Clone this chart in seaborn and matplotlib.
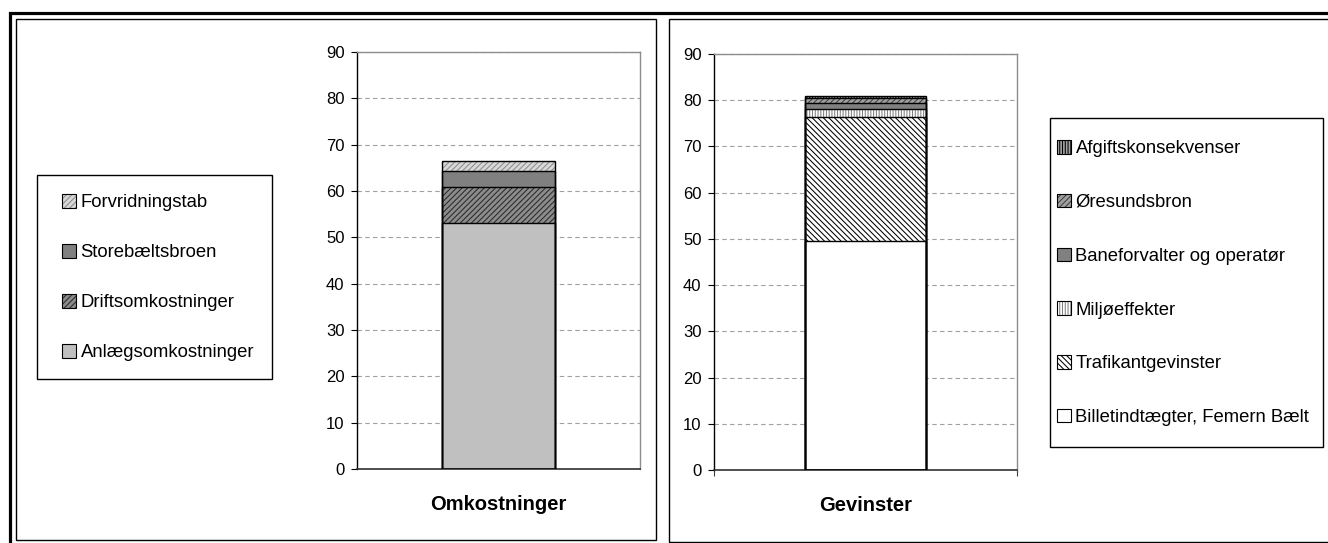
import matplotlib
matplotlib.use("Agg")
import matplotlib.pyplot as plt
import seaborn as sns
import pandas as pd
import numpy as np
from matplotlib.patches import Patch, Rectangle
from matplotlib.legend_handler import HandlerTuple

# ---------------- data ----------------
cost_category = "Omkostninger"
cost_series = ["Anlægsomkostninger", "Driftsomkostninger", "Storebæltsbroen", "Forvridningstab"]
cost_values = [53.0, 7.9, 3.4, 2.2]

gain_category = "Gevinster"
gain_series = ["Billetindtægter, Femern Bælt", "Trafikantgevinster", "Miljøeffekter",
               "Baneforvalter og operatør", "Øresundsbron", "Afgiftskonsekvenser"]
gain_values = [49.6, 26.7, 1.7, 1.4, 1.0, 0.5]

y_ticks = [0, 10, 20, 30, 40, 50, 60, 70, 80, 90]

# ---------------- styles ----------------
cost_styles = [
    dict(fc="#c0c0c0", hc="#c0c0c0", hatch=None),
    dict(fc="#8c8c8c", hc="#2a2a2a", hatch="//////"),
    dict(fc="#808080", hc="#808080", hatch=None),
    dict(fc="#d8d8d8", hc="#8c8c8c", hatch="//////"),
]
gain_styles = [
    dict(fc="#ffffff", hc="#ffffff", hatch=None),
    dict(fc="#ffffff", hc="#000000", hatch="\\\\\\\\\\\\"),
    dict(fc="#ffffff", hc="#808080", hatch="||||||"),
    dict(fc="#808080", hc="#808080", hatch=None),
    dict(fc="#a0a0a0", hc="#404040", hatch="//////"),
    dict(fc="#a0a0a0", hc="#000000", hatch="||||||"),
]

W, H = 1328, 543
sns.set_theme(style="white")
plt.rcParams["font.family"] = ["Liberation Sans", "DejaVu Sans"]
plt.rcParams["hatch.linewidth"] = 0.75

fig = plt.figure(figsize=(W / 100, H / 100), dpi=100)
fig.patch.set_facecolor("white")


def fx(x):
    return x / W


def fy(y):
    return 1 - y / H


def add_box(x0, y0, x1, y1, lw, color="black"):
    fig.add_artist(Rectangle((fx(x0), fy(y1)), fx(x1) - fx(x0), fy(y0) - fy(y1),
                             transform=fig.transFigure, fill=False, lw=lw,
                             edgecolor=color, zorder=0))


# frames around the charts
add_box(9.5, 12.5, 1345, 560, 2.3)
add_box(16, 19, 656, 540, 1.0)
add_box(669, 19, 1345, 542, 1.0)

ax1 = fig.add_axes([fx(357), fy(469), fx(640) - fx(357), fy(52) - fy(469)])
ax2 = fig.add_axes([fx(714), fy(470), fx(1017) - fx(714), fy(54) - fy(470)])


def draw_stack(ax, category, series, values, styles):
    tops = np.cumsum(values)
    df = pd.DataFrame({"category": [category] * len(series), "series": series, "top": tops})
    # filled segments, top-most cumulative first so lower ones cover them
    for i in reversed(range(len(series))):
        st = styles[i]
        sns.barplot(data=df.iloc[[i]], x="category", y="top", width=0.4,
                    color=st["fc"], edgecolor=st["hc"], hatch=st["hatch"],
                    linewidth=0, saturation=1, errorbar=None, ax=ax, zorder=2)
    # black outlines of each segment boundary
    for i in reversed(range(len(series))):
        sns.barplot(data=df.iloc[[i]], x="category", y="top", width=0.4,
                    fill=False, color="black", linewidth=1.0, errorbar=None,
                    ax=ax, zorder=3)


def style_axes(ax, category, minor_edges):
    ax.set_ylim(0, 90)
    ax.set_xlim(-0.5, 0.5)
    ax.set_yticks(y_ticks)
    ax.set_yticklabels([str(t) for t in y_ticks], fontsize=12, color="black")
    ax.set_xticks([0])
    ax.set_xticklabels([category], fontsize=14.5, fontweight="bold", color="black")
    ax.set_xlabel("")
    ax.set_ylabel("")
    ax.tick_params(axis="y", length=4, width=0.8, color="black", pad=5, left=True)
    ax.tick_params(axis="x", length=0, pad=19)
    if minor_edges:
        ax.set_xticks([-0.5, 0.5], minor=True)
        ax.tick_params(axis="x", which="minor", length=4, width=0.8, color="#404040", bottom=True)
    ax.set_axisbelow(True)
    ax.yaxis.grid(True, color="#a0a0a0", linestyle=(0, (4, 3)), linewidth=0.8)
    ax.xaxis.grid(False)
    for s in ["top", "right"]:
        ax.spines[s].set_color("#8c8c8c")
        ax.spines[s].set_linewidth(1.0)
        ax.spines[s].set_visible(True)
    ax.spines["left"].set_color("black")
    ax.spines["left"].set_linewidth(1.0)
    ax.spines["bottom"].set_color("#303030")
    ax.spines["bottom"].set_linewidth(1.2)
    ax.set_facecolor("white")


draw_stack(ax1, cost_category, cost_series, cost_values, cost_styles)
draw_stack(ax2, gain_category, gain_series, gain_values, gain_styles)
style_axes(ax1, cost_category, False)
style_axes(ax2, gain_category, True)


def make_handles(styles):
    hs = []
    for st in styles:
        fill = Patch(facecolor=st["fc"], edgecolor=st["hc"], hatch=st["hatch"], linewidth=0)
        edge = Patch(fill=False, edgecolor="black", linewidth=0.8)
        hs.append((fill, edge))
    return hs


def add_legend(ax, series, styles, anchor_px, spacing, frame_px):
    handles = make_handles(styles)[::-1]
    labels = series[::-1]
    leg = ax.legend(handles, labels, handler_map={tuple: HandlerTuple(ndivide=1, pad=0)},
                    loc="upper left", bbox_to_anchor=(fx(anchor_px[0]), fy(anchor_px[1])),
                    bbox_transform=fig.transFigure, frameon=False, fontsize=13.3,
                    handlelength=0.75, handleheight=0.75, handletextpad=0.25,
                    labelspacing=spacing, borderpad=0, borderaxespad=0)
    for t in leg.get_texts():
        t.set_color("black")
    add_box(*frame_px, 1.0)
    return leg


add_legend(ax1, cost_series, cost_styles, (62, 194), 1.78, (37, 175, 272, 379))
add_legend(ax2, gain_series, gain_styles, (1057, 140), 1.98, (1050, 118, 1323, 447))

fig.savefig("out.png", dpi=100, facecolor="white")
